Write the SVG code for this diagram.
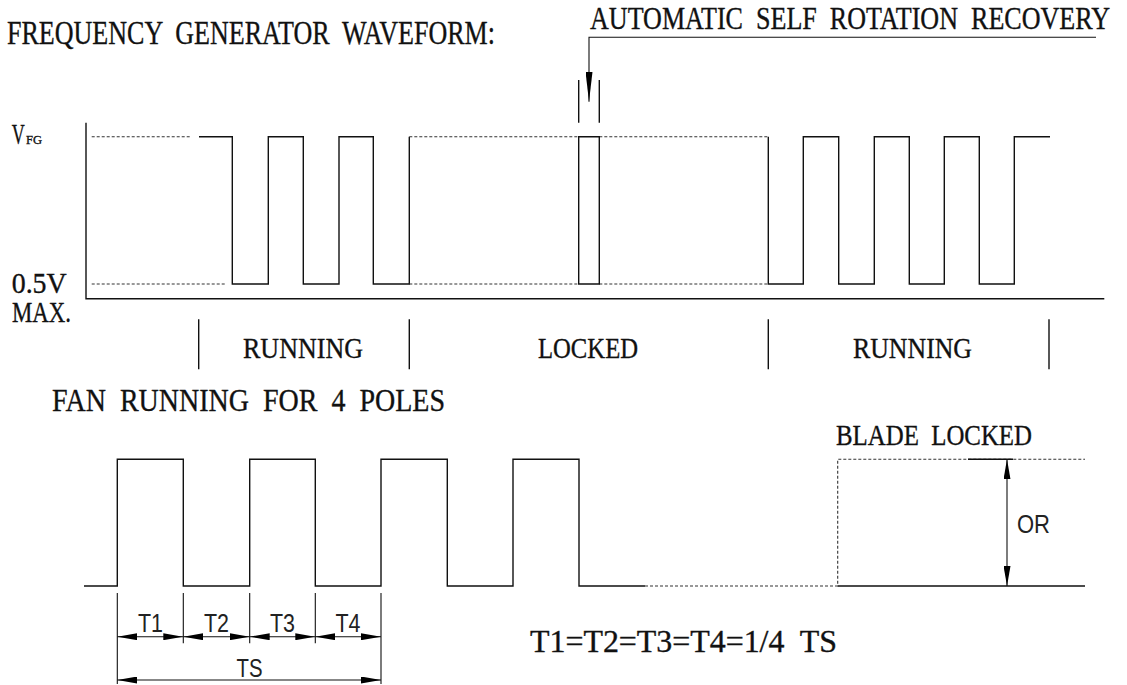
<svg xmlns="http://www.w3.org/2000/svg" width="1127" height="685" viewBox="0 0 1127 685">
<style>
.bg{fill:#fff}
.ln{fill:none;stroke:#111;stroke-width:1.4}
.dash{fill:none;stroke:#333;stroke-width:1.1;stroke-dasharray:3 2}
.ser{font-family:"Liberation Serif","Times New Roman",serif;fill:#111;stroke:#111;stroke-width:0.35;white-space:pre}
.san{font-family:"Liberation Sans",Arial,sans-serif;fill:#222}
.dim{fill:none;stroke:#111;stroke-width:1.1}
</style>
<defs>
<marker id="arr" viewBox="0 0 20 7" refX="20" refY="3.5" markerWidth="20" markerHeight="7" markerUnits="userSpaceOnUse" orient="auto-start-reverse"><path d="M0,0 L20,3.5 L0,7 z" fill="#000"/></marker>
<marker id="arrL" viewBox="0 0 30 7" refX="30" refY="3.5" markerWidth="30" markerHeight="7" markerUnits="userSpaceOnUse" orient="auto"><path d="M0,0 L30,3.5 L0,7 z" fill="#000"/></marker>
</defs>
<rect class="bg" x="0" y="0" width="1127" height="685"/>

<g id="titles">
<text class="ser" xml:space="preserve" x="7" y="44" font-size="33" textLength="488" lengthAdjust="spacingAndGlyphs">FREQUENCY  GENERATOR  WAVEFORM:</text>
<text class="ser" xml:space="preserve" x="590" y="29" font-size="31" textLength="520" lengthAdjust="spacingAndGlyphs">AUTOMATIC  SELF  ROTATION  RECOVERY</text>
<text class="ser" xml:space="preserve" x="52" y="410.7" font-size="32" textLength="393" lengthAdjust="spacingAndGlyphs">FAN  RUNNING  FOR  4  POLES</text>
</g>

<g id="axis-labels">
<text class="ser" x="11.7" y="143.5" font-size="29" textLength="13" lengthAdjust="spacingAndGlyphs">V</text>
<text class="ser" x="26" y="143.5" font-size="13" textLength="16" lengthAdjust="spacingAndGlyphs">FG</text>
<text class="ser" x="11.7" y="293.3" font-size="30" textLength="55" lengthAdjust="spacingAndGlyphs">0.5V</text>
<text class="ser" x="12" y="322.3" font-size="30" textLength="59" lengthAdjust="spacingAndGlyphs">MAX.</text>
</g>

<g id="fg-axes">
<path class="ln" d="M86,122.7 V298.7 H1104.3"/>
</g>

<g id="fg-waveform">
<path class="dash" d="M91.7,136.7 H190 M91.7,284 H226.7"/>
<path class="ln" d="M199,136.7 H232.3 V284 H268.3 V136.7 H303.3 V284 H339 V136.7 H373.3 V284 H409.3 V136.7"/>
<path class="dash" d="M409.3,136.7 H578.7 M409.3,284 H578.7 M599.3,136.7 H768.3 M599.3,284 H768.3"/>
<path class="ln" d="M578.7,136.7 H599.3 V284 H578.7 Z"/>
<path class="ln" d="M768.3,136.7 V284 H803.3 V136.7 H838.7 V284 H874.3 V136.7 H909.3 V284 H944.3 V136.7 H979.3 V284 H1014.3 V136.7 H1050"/>
<path class="ln" d="M578.7,80 V122.7 M599.3,80 V122.7"/>
</g>

<g id="region-labels">
<path class="ln" d="M198.7,319.3 V369.3 M409.3,319.3 V369.3 M768.3,319.3 V369.3 M1049,319.3 V369.3"/>
<text class="ser" x="243" y="358" font-size="30" textLength="120" lengthAdjust="spacingAndGlyphs">RUNNING</text>
<text class="ser" x="538" y="358" font-size="30" textLength="100" lengthAdjust="spacingAndGlyphs">LOCKED</text>
<text class="ser" x="853" y="358" font-size="30" textLength="119" lengthAdjust="spacingAndGlyphs">RUNNING</text>
</g>

<g id="fan-waveform">
<path class="ln" d="M84,586 H117.3 V459.3 H183.3 V586 H249.7 V459.3 H315.3 V586 H381 V459.3 H447.3 V586 H513 V459.3 H579 V586 H645"/>
<path class="dash" d="M645,586 H837.7 V459.3 H1085"/>
<path class="ln" d="M837.7,586 H1085 M968,459.3 H1013"/>
<text class="ser" xml:space="preserve" x="836" y="445" font-size="30" textLength="196" lengthAdjust="spacingAndGlyphs">BLADE  LOCKED</text>
<text class="san" x="1017" y="533" font-size="25" textLength="33" lengthAdjust="spacingAndGlyphs">OR</text>
</g>

<g id="dimensions">
<path class="dim" d="M117.3,593 V684 M381,593 V684 M183.3,593 V643.3 M249.7,593 V643.3 M315.3,593 V643.3"/>
<text class="san" x="138" y="631.7" font-size="25" textLength="25" lengthAdjust="spacingAndGlyphs">T1</text>
<text class="san" x="204" y="631.7" font-size="25" textLength="25" lengthAdjust="spacingAndGlyphs">T2</text>
<text class="san" x="270" y="631.7" font-size="25" textLength="25" lengthAdjust="spacingAndGlyphs">T3</text>
<text class="san" x="335.5" y="631.7" font-size="25" textLength="25" lengthAdjust="spacingAndGlyphs">T4</text>
<text class="san" x="236.5" y="676.7" font-size="25" textLength="26" lengthAdjust="spacingAndGlyphs">TS</text>
<text class="ser" xml:space="preserve" x="530" y="651.7" font-size="32" textLength="307" lengthAdjust="spacingAndGlyphs">T1=T2=T3=T4=1/4  TS</text>
</g>

<g id="connectors">
<path class="dim" d="M1096,37.3 H589 V101.7" marker-end="url(#arrL)"/>
<path class="dim" d="M117.3,636.7 H183.3" marker-start="url(#arr)" marker-end="url(#arr)"/>
<path class="dim" d="M183.3,636.7 H249.7" marker-start="url(#arr)" marker-end="url(#arr)"/>
<path class="dim" d="M249.7,636.7 H315.3" marker-start="url(#arr)" marker-end="url(#arr)"/>
<path class="dim" d="M315.3,636.7 H381" marker-start="url(#arr)" marker-end="url(#arr)"/>
<path class="dim" d="M117.3,680 H381" marker-start="url(#arr)" marker-end="url(#arr)"/>
<path class="dim" d="M1007,459.3 V586" marker-start="url(#arr)" marker-end="url(#arr)"/>
</g>
</svg>
